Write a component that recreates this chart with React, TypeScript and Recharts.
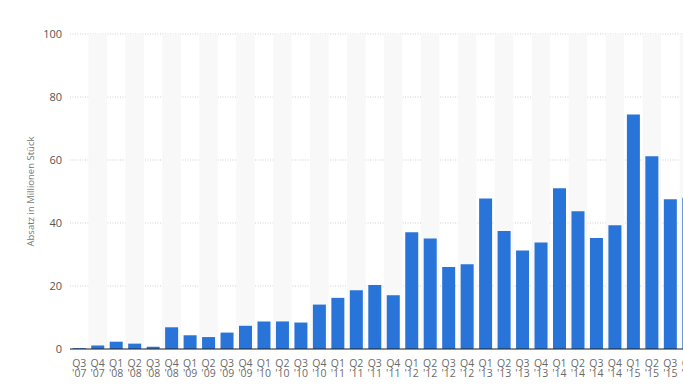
import React from 'react';
import { BarChart, Bar, XAxis, YAxis, CartesianGrid, ReferenceArea } from 'recharts';

const quarters = ['Q3','Q4','Q1','Q2','Q3','Q4','Q1','Q2','Q3','Q4','Q1','Q2','Q3','Q4','Q1','Q2','Q3','Q4','Q1','Q2','Q3','Q4','Q1','Q2','Q3','Q4','Q1','Q2','Q3','Q4','Q1','Q2','Q3','Q4'];
const years = ["'07","'07","'08","'08","'08","'08","'09","'09","'09","'09","'10","'10","'10","'10","'11","'11","'11","'11","'12","'12","'12","'12","'13","'13","'13","'13","'14","'14","'14","'14","'15","'15","'15","'15"];
const sales = [0.27, 1.12, 2.32, 1.7, 0.72, 6.89, 4.36, 3.79, 5.21, 7.37, 8.74, 8.75, 8.4, 14.1, 16.24, 18.65, 20.34, 17.07, 37.04, 35.06, 26.03, 26.91, 47.79, 37.43, 31.24, 33.8, 51.03, 43.72, 35.2, 39.27, 74.47, 61.17, 47.53, 48.05];
const yTicks = [0, 20, 40, 60, 80, 100];
const yLabel = 'Absatz in Millionen Stück';

const data = quarters.map((q, i) => ({ key: `${q} ${years[i]}`, q, y: years[i], v: sales[i] }));
const shaded = data.filter((_, i) => i % 2 === 1).map(d => d.key);

const FONT = '"Open Sans", sans-serif';

const XTick = (props: any) => {
  const { x, y, payload } = props;
  const [q, yr] = String(payload.value).split(' ');
  return (
    <text x={x} y={y} textAnchor="middle" fontFamily={FONT} fontSize={10.5} fill="#6a6a6a">
      <tspan x={x} dy={17.5}>{q}</tspan>
      <tspan x={x} dy={10.5}>{yr}</tspan>
    </text>
  );
};

const YLabel = (props: any) => {
  const { viewBox } = props;
  const cx = 31;
  const cy = viewBox.y + viewBox.height / 2;
  return (
    <text x={cx} y={cy} transform={`rotate(-90 ${cx} ${cy})`} textAnchor="middle" dominantBaseline="middle" fontFamily={FONT} fontSize={9.5} fill="#777">
      {yLabel}
    </text>
  );
};

export default function App() {
  return (
    <div style={{ position: 'fixed', left: 0, top: 0, width: 683, height: 385, overflow: 'hidden', background: '#fff' }}>
      <BarChart width={700} height={385} data={data} margin={{ top: 34, right: 2, bottom: 0, left: 0 }} barCategoryGap="15%">
        {shaded.map(k => (
          <ReferenceArea key={k} x1={k} x2={k} y1={0} y2={100} fill="#f8f8f8" fillOpacity={1} stroke="none" ifOverflow="visible" />
        ))}
        <CartesianGrid vertical={false} stroke="#cfcfcf" strokeDasharray="1 1.5" />
        <XAxis dataKey="key" height={36} interval={0} tick={<XTick />} tickLine={false} axisLine={{ stroke: '#222', strokeWidth: 1.2 }} tickSize={0} tickMargin={0} />
        <YAxis domain={[0, 100]} ticks={yTicks} width={70} axisLine={false} tickLine={false} tickSize={0} tickMargin={8}
          tick={{ fontFamily: FONT, fontSize: 11, fill: '#555' }} label={<YLabel />} />
        <Bar dataKey="v" fill="#2874d9" isAnimationActive={false} />
      </BarChart>
    </div>
  );
}
